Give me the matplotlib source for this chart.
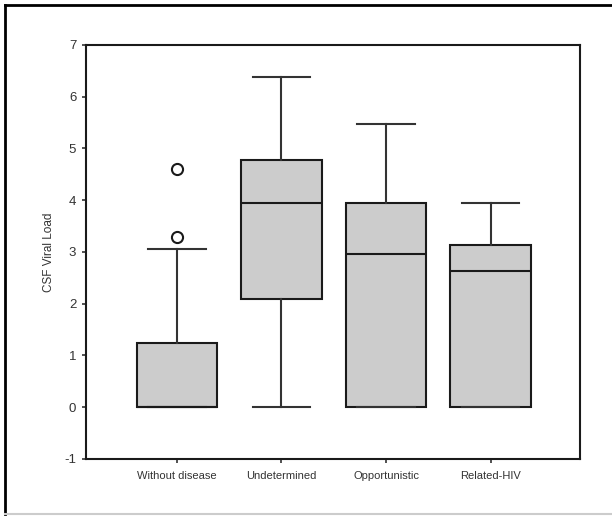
import matplotlib
matplotlib.use("Agg")
import matplotlib.pyplot as plt
from matplotlib.lines import Line2D

plt.rcParams['font.family'] = ['Liberation Sans', 'DejaVu Sans']
plt.rcParams['axes.unicode_minus'] = False

groups = ["Without disease", "Undetermined", "Opportunistic", "Related-HIV"]
whislo = [0.0, 0.0, 0.0, 0.0]
q1 = [0.0, 2.1, 0.0, 0.0]
med = [0.0, 3.95, 2.96, 2.63]
q3 = [1.25, 4.78, 3.94, 3.13]
whishi = [3.05, 6.39, 5.48, 3.95]
fliers = [[3.28, 4.6], [], [], []]

stats = []
for i in range(len(groups)):
    stats.append(dict(label=groups[i], whislo=whislo[i], q1=q1[i], med=med[i],
                      q3=q3[i], whishi=whishi[i], fliers=fliers[i]))

fig = plt.figure(figsize=(6.12, 5.16), dpi=100)
ax = fig.add_axes([0.1405, 0.1105, 0.808, 0.8023])

ax.bxp(stats, positions=[1, 2, 3, 4], widths=0.77, patch_artist=True,
       boxprops=dict(facecolor='#cccccc', edgecolor='#1a1a1a', linewidth=1.5),
       medianprops=dict(color='#1a1a1a', linewidth=1.5),
       whiskerprops=dict(color='#333333', linewidth=1.5),
       capprops=dict(color='#333333', linewidth=1.5),
       capwidths=0.55,
       flierprops=dict(marker='o', markerfacecolor='none', markeredgecolor='#1a1a1a',
                       markersize=8, markeredgewidth=1.5))

ax.set_xlim(0.13, 4.86)
ax.set_ylim(-1, 7)
ax.set_yticks(range(-1, 8))
ax.set_ylabel("CSF Viral Load", fontsize=8.5, color='#333333', labelpad=7)
ax.tick_params(axis='both', direction='out', length=3, width=1.2,
               colors='#333333', labelcolor='#333333')
ax.tick_params(axis='y', labelsize=9.5, pad=4)
ax.tick_params(axis='x', labelsize=8, pad=6)
for s in ax.spines.values():
    s.set_linewidth(1.5)
    s.set_color('#1a1a1a')

# outer frame
fig.add_artist(Line2D([0.008, 0.008], [0.004, 0.99], transform=fig.transFigure, color='black', lw=2))
fig.add_artist(Line2D([0.008, 1.0], [0.99, 0.99], transform=fig.transFigure, color='black', lw=2))
fig.add_artist(Line2D([0.008, 1.0], [0.004, 0.004], transform=fig.transFigure, color='#cccccc', lw=1.5))

fig.savefig("out.png", dpi=100)
